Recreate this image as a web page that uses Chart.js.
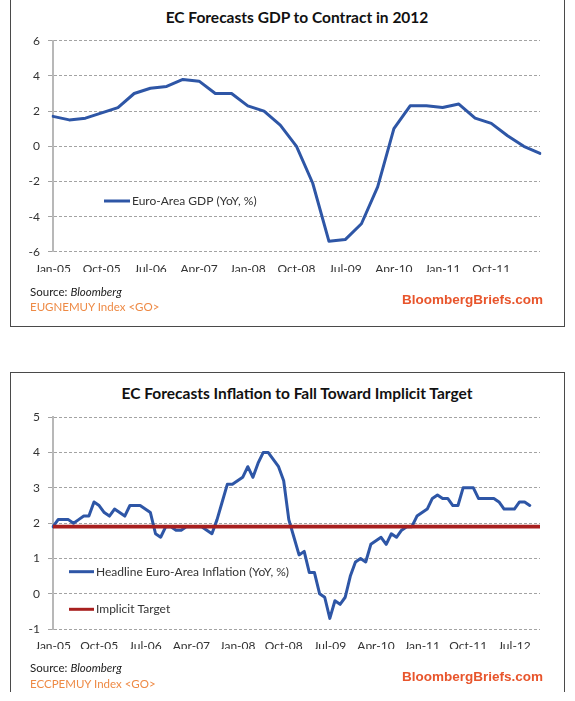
<!DOCTYPE html>
<html><head><meta charset="utf-8">
<script src="https://cdn.jsdelivr.net/npm/chart.js@4.4.1/dist/chart.umd.min.js"></script>
<style>
html,body{margin:0;padding:0;background:#fff;}
body{width:575px;height:701px;position:relative;overflow:hidden;font-family:Lato,"Liberation Sans",sans-serif;}
.frame{position:absolute;border:1px solid #4a4a4a;box-sizing:border-box;}
.t{position:absolute;white-space:nowrap;}
.title{font-weight:bold;font-size:15.5px;line-height:18px;color:#111;text-align:center;left:0;width:594px;}
.src{left:30px;font-size:11.5px;line-height:14px;color:#222;}
.src i{font-style:italic;}
.code{left:30px;font-size:11.5px;line-height:14px;color:#EE8A45;}
.bb{right:32px;font-family:"Liberation Sans",Arial,sans-serif;font-weight:bold;font-size:13.5px;line-height:16px;color:#E8552C;}
canvas{position:absolute;left:0;}
</style></head>
<body>
<div class="frame" style="left:10px;top:-4px;width:555px;height:331px;"></div>
<div class="frame" style="left:10px;top:372px;width:555px;height:320px;border-bottom:none;"></div>

<div class="t title" style="top:8px;">EC Forecasts GDP to Contract in 2012</div>
<canvas id="c1" width="575" height="290" style="top:0px;width:575px;height:290px;"></canvas>
<div class="t src" style="top:285px;">Source: <i>Bloomberg</i></div>
<div class="t code" style="top:300px;">EUGNEMUY Index &lt;GO&gt;</div>
<div class="t bb" style="top:292px;">BloombergBriefs.com</div>

<div class="t title" style="top:384px;">EC Forecasts Inflation to Fall Toward Implicit Target</div>
<canvas id="c2" width="575" height="310" style="top:360px;width:575px;height:310px;"></canvas>
<div class="t src" style="top:661px;">Source: <i>Bloomberg</i></div>
<div class="t code" style="top:677px;">ECCPEMUY Index &lt;GO&gt;</div>
<div class="t bb" style="top:669px;">BloombergBriefs.com</div>

<script>
// ---------- Chart 1 data (quarterly) ----------
const gdpLabels = [
  'Jan-05','Apr-05','Jul-05','Oct-05',
  'Jan-06','Apr-06','Jul-06','Oct-06',
  'Jan-07','Apr-07','Jul-07','Oct-07',
  'Jan-08','Apr-08','Jul-08','Oct-08',
  'Jan-09','Apr-09','Jul-09','Oct-09',
  'Jan-10','Apr-10','Jul-10','Oct-10',
  'Jan-11','Apr-11','Jul-11','Oct-11',
  'Jan-12','Apr-12','Jul-12'
];
const gdpValues = [
  1.7, 1.5, 1.6, 1.9,
  2.2, 3.0, 3.3, 3.4,
  3.8, 3.7, 3.0, 3.0,
  2.3, 2.0, 1.2, 0.0,
  -2.1, -5.4, -5.3, -4.4,
  -2.3, 1.0, 2.3, 2.3,
  2.2, 2.4, 1.6, 1.3,
  0.6, 0.0, -0.4
];
const gdpTickLabels = ['Jan-05','Oct-05','Jul-06','Apr-07','Jan-08','Oct-08','Jul-09','Apr-10','Jan-11','Oct-11'];
const gdpYTicks = [-6, -4, -2, 0, 2, 4, 6];

// ---------- Chart 2 data (monthly) ----------
const cpiLabels = [
  'Jan-05','Feb-05','Mar-05','Apr-05','May-05','Jun-05','Jul-05','Aug-05','Sep-05','Oct-05','Nov-05','Dec-05',
  'Jan-06','Feb-06','Mar-06','Apr-06','May-06','Jun-06','Jul-06','Aug-06','Sep-06','Oct-06','Nov-06','Dec-06',
  'Jan-07','Feb-07','Mar-07','Apr-07','May-07','Jun-07','Jul-07','Aug-07','Sep-07','Oct-07','Nov-07','Dec-07',
  'Jan-08','Feb-08','Mar-08','Apr-08','May-08','Jun-08','Jul-08','Aug-08','Sep-08','Oct-08','Nov-08','Dec-08',
  'Jan-09','Feb-09','Mar-09','Apr-09','May-09','Jun-09','Jul-09','Aug-09','Sep-09','Oct-09','Nov-09','Dec-09',
  'Jan-10','Feb-10','Mar-10','Apr-10','May-10','Jun-10','Jul-10','Aug-10','Sep-10','Oct-10','Nov-10','Dec-10',
  'Jan-11','Feb-11','Mar-11','Apr-11','May-11','Jun-11','Jul-11','Aug-11','Sep-11','Oct-11','Nov-11','Dec-11',
  'Jan-12','Feb-12','Mar-12','Apr-12','May-12','Jun-12','Jul-12','Aug-12','Sep-12','Oct-12','Nov-12','Dec-12'
];
const cpiValues = [
  1.9, 2.1, 2.1, 2.1, 2.0, 2.1, 2.2, 2.2, 2.6, 2.5, 2.3, 2.2,
  2.4, 2.3, 2.2, 2.5, 2.5, 2.5, 2.4, 2.3, 1.7, 1.6, 1.9, 1.9,
  1.8, 1.8, 1.9, 1.9, 1.9, 1.9, 1.8, 1.7, 2.1, 2.6, 3.1, 3.1,
  3.2, 3.3, 3.6, 3.3, 3.7, 4.0, 4.0, 3.8, 3.6, 3.2, 2.1, 1.6,
  1.1, 1.2, 0.6, 0.6, 0.0, -0.1, -0.7, -0.2, -0.3, -0.1, 0.5, 0.9,
  1.0, 0.9, 1.4, 1.5, 1.6, 1.4, 1.7, 1.6, 1.8, 1.9, 1.9, 2.2,
  2.3, 2.4, 2.7, 2.8, 2.7, 2.7, 2.5, 2.5, 3.0, 3.0, 3.0, 2.7,
  2.7, 2.7, 2.7, 2.6, 2.4, 2.4, 2.4, 2.6, 2.6, 2.5, null, null
];
const targetValues = [
  1.9, 1.9, 1.9, 1.9, 1.9, 1.9, 1.9, 1.9, 1.9, 1.9, 1.9, 1.9,
  1.9, 1.9, 1.9, 1.9, 1.9, 1.9, 1.9, 1.9, 1.9, 1.9, 1.9, 1.9,
  1.9, 1.9, 1.9, 1.9, 1.9, 1.9, 1.9, 1.9, 1.9, 1.9, 1.9, 1.9,
  1.9, 1.9, 1.9, 1.9, 1.9, 1.9, 1.9, 1.9, 1.9, 1.9, 1.9, 1.9,
  1.9, 1.9, 1.9, 1.9, 1.9, 1.9, 1.9, 1.9, 1.9, 1.9, 1.9, 1.9,
  1.9, 1.9, 1.9, 1.9, 1.9, 1.9, 1.9, 1.9, 1.9, 1.9, 1.9, 1.9,
  1.9, 1.9, 1.9, 1.9, 1.9, 1.9, 1.9, 1.9, 1.9, 1.9, 1.9, 1.9,
  1.9, 1.9, 1.9, 1.9, 1.9, 1.9, 1.9, 1.9, 1.9, 1.9, 1.9, 1.9
];
const cpiTickLabels = ['Jan-05','Oct-05','Jul-06','Apr-07','Jan-08','Oct-08','Jul-09','Apr-10','Jan-11','Oct-11','Jul-12'];
const cpiYTicks = [-1, 0, 1, 2, 3, 4, 5];

const BLUE = '#2e56a6';
const RED = '#a8201f';
const TXT = '#333333';
const FONT = 'Lato';

const insideLegend = {
  id: 'insideLegend',
  afterDatasetsDraw(chart, args, opts) {
    const ctx = chart.ctx, a = chart.chartArea;
    ctx.save();
    chart.data.datasets.forEach((ds, i) => {
      const x = a.left + opts.x, y = a.top + opts.ys[i];
      ctx.strokeStyle = ds.borderColor;
      ctx.lineWidth = 3;
      ctx.lineCap = 'butt';
      ctx.beginPath(); ctx.moveTo(x, y); ctx.lineTo(x + opts.len, y); ctx.stroke();
      ctx.fillStyle = TXT;
      ctx.font = '12px ' + FONT;
      ctx.textBaseline = 'middle';
      ctx.textAlign = 'left';
      ctx.fillText(ds.label, x + opts.len + opts.gap, y);
    });
    ctx.restore();
  }
};

function makeOptions(o) {
  return {
    responsive: false,
    animation: false,
    layout: { padding: { top: o.top, right: 35, bottom: o.bottom, left: 0 } },
    plugins: {
      legend: { display: false },
      tooltip: { enabled: false },
      insideLegend: o.legend
    },
    elements: {
      point: { radius: 0 },
      line: { tension: 0, borderJoinStyle: 'round', borderCapStyle: 'round' }
    },
    scales: {
      x: {
        type: 'category',
        offset: false,
        grid: { display: false, drawTicks: false },
        border: { display: false },
        ticks: {
          autoSkip: false, maxRotation: 0, minRotation: 0, padding: 10,
          color: TXT, font: { family: FONT, size: 12 },
          callback: function (v) {
            const lab = this.getLabelForValue(v);
            return o.shown.includes(lab) ? lab : '';
          }
        },
        afterFit: s => { s.height = 20; }
      },
      y: {
        min: o.ticks[0], max: o.ticks[o.ticks.length - 1],
        afterBuildTicks: s => { s.ticks = o.ticks.map(v => ({ value: v })); },
        ticks: { padding: 8, color: TXT, font: { family: FONT, size: 12 } },
        grid: { color: '#a3a3a3', lineWidth: 1, tickLength: 5, tickColor: '#a3a3a3' },
        border: { display: true, color: '#b8b8b8', width: 2, dash: [3, 2] },
        afterFit: s => { s.width = 53; }
      }
    }
  };
}

function draw() {
  Chart.defaults.font.family = FONT;
  new Chart(document.getElementById('c1'), {
    type: 'line',
    data: {
      labels: gdpLabels,
      datasets: [
        { label: 'Euro-Area GDP (YoY, %)', data: gdpValues, borderColor: BLUE, borderWidth: 3, fill: false }
      ]
    },
    options: makeOptions({ top: 40.7, bottom: 18.1, shown: gdpTickLabels, ticks: gdpYTicks,
      legend: { x: 51, len: 26, gap: 2, ys: [160.3] } }),
    plugins: [insideLegend]
  });
  new Chart(document.getElementById('c2'), {
    type: 'line',
    data: {
      labels: cpiLabels,
      datasets: [
        { label: 'Headline Euro-Area Inflation (YoY, %)', data: cpiValues, borderColor: BLUE, borderWidth: 3, fill: false, order: 1 },
        { label: 'Implicit Target', data: targetValues, borderColor: RED, borderWidth: 3.8, fill: false, order: 0, borderCapStyle: 'butt' }
      ]
    },
    options: makeOptions({ top: 57.3, bottom: 21, shown: cpiTickLabels, ticks: cpiYTicks,
      legend: { x: 16, len: 25, gap: 2, ys: [154.4, 192] } }),
    plugins: [insideLegend]
  });
}

Promise.all([
  document.fonts.load('12px Lato'),
  document.fonts.load('bold 12px Lato'),
  document.fonts.load('italic 12px Lato')
]).then(draw, draw);
</script>
</body></html>
